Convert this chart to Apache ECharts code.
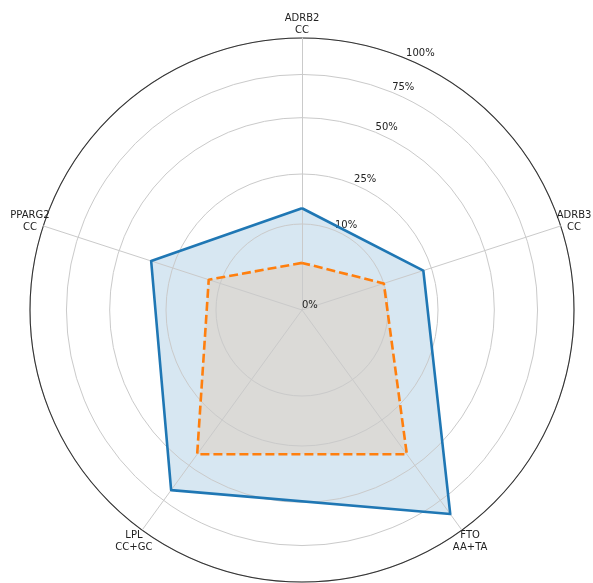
<!DOCTYPE html>
<html><head><meta charset="utf-8">
<script src="https://cdn.jsdelivr.net/npm/echarts@6/dist/echarts.min.js"></script>
<style>html,body{margin:0;padding:0;background:#fff}#c{width:593px;height:583px}</style>
</head><body><div id="c"></div>
<script>
// ---- data ----
const categories = ['ADRB2', 'ADRB3', 'FTO', 'LPL', 'PPARG2'];
const genotypes  = ['CC', 'CC', 'AA+TA', 'CC+GC', 'CC'];
const seriesA    = [14, 22, 86, 67, 34];   // solid blue, %
const seriesB    = [3, 10, 43, 43, 13];    // dashed orange, %
const tickPercents = [0, 10, 25, 50, 75, 100];

// radial scale is square-root of the percentage
const toR = p => Math.sqrt(p / 100);
// ECharts radar runs counter-clockwise; reorder so categories run clockwise from the top
const order = categories.map((_, i) => (categories.length - i) % categories.length);
const indicators = order.map(i => ({ name: categories[i] + '\n' + genotypes[i], min: 0, max: 1 }));
const reorder = arr => order.map(i => toR(arr[i]));
const ringValues = tickPercents.map(toR);
const ringLabel = v => {
  let best = 0;
  ringValues.forEach((r, i) => { if (Math.abs(r - v) < Math.abs(ringValues[best] - v)) best = i; });
  return tickPercents[best] + '%';
};

const CX = 302, CY = 310, R = 272;
const grid = '#cacaca';
const txt = '#222';

const chart = echarts.init(document.getElementById('c'), null, { renderer: 'canvas' });
chart.setOption({
  backgroundColor: '#fff',
  animation: false,
  textStyle: { fontFamily: 'DejaVu Sans' },
  polar: { center: [CX, CY], radius: R },
  angleAxis: {
    type: 'value', min: 0, max: 360, startAngle: 67.5, z: 2,
    axisLine: { show: true, lineStyle: { color: '#333', width: 1.1 } },
    axisTick: { show: false }, axisLabel: { show: false }, splitLine: { show: false }
  },
  radiusAxis: {
    type: 'value', min: 0, max: 1, z: 2,
    axisLine: { show: false },
    axisTick: { show: false, customValues: ringValues },
    axisLabel: {
      customValues: ringValues, formatter: ringLabel,
      align: 'left', verticalAlign: 'bottom', margin: 0,
      fontSize: 10, color: txt, fontFamily: 'DejaVu Sans'
    },
    splitLine: { show: true, lineStyle: { color: grid, width: 1 } }
  },
  radar: {
    center: [CX, CY], radius: R, startAngle: 90, shape: 'circle', z: 2,
    indicator: indicators,
    nameGap: 14,
    axisName: { color: txt, fontSize: 10, lineHeight: 12, align: 'center', verticalAlign: 'middle', fontFamily: 'DejaVu Sans' },
    axisLine: { lineStyle: { color: grid, width: 1 } },
    splitLine: { show: false }, splitArea: { show: false },
    axisTick: { show: false }, axisLabel: { show: false }
  },
  series: [
    {
      type: 'radar', z: 1, symbol: 'none', silent: true,
      lineStyle: { opacity: 0 },
      data: [
        { name: 'Series A', value: reorder(seriesA), areaStyle: { color: 'rgba(31,119,180,0.25)' } },
        { name: 'Series B', value: reorder(seriesB), areaStyle: { color: 'rgba(255,127,14,0.17)' } }
      ]
    },
    {
      type: 'radar', z: 3, symbol: 'none',
      data: [
        { name: 'Series A', value: reorder(seriesA), lineStyle: { color: '#1f77b4', width: 2.6, join: 'round' } },
        { name: 'Series B', value: reorder(seriesB), lineStyle: { color: '#ff7f0e', width: 2.6, type: [9, 4], join: 'round' } }
      ]
    }
  ]
});
</script></body></html>
